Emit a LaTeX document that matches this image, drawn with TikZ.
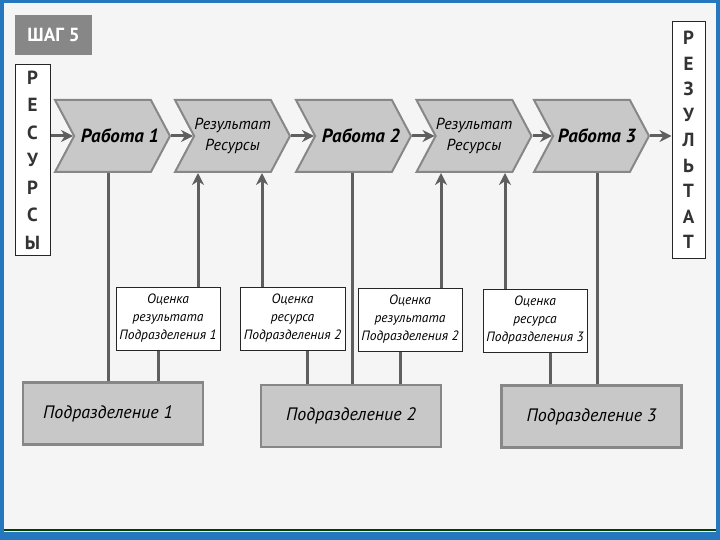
\documentclass[tikz,border=0pt]{standalone}
\usepackage{fontspec}
\setmainfont{PT Sans}
\usetikzlibrary{shapes.symbols, arrows.meta}

\definecolor{frameblue}{RGB}{38,120,190}
\definecolor{boxgray}{RGB}{200,200,200}
\definecolor{edgegray}{RGB}{135,135,135}
\definecolor{linegray}{RGB}{95,95,95}

\tikzset{
    work/.style={signal, signal to=east, signal from=west, signal pointer angle=124,
        fill=boxgray, draw=edgegray, line width=2pt, minimum width=115pt, minimum height=72pt,
        inner sep=0pt, align=center},
    mark box/.style={draw=black!85, fill=white, line width=1pt, align=center, inner sep=0pt},
    unit/.style={fill=boxgray, draw=edgegray, line width=2.5pt, minimum width=180pt, minimum height=62pt},
    arr/.style={draw=linegray, line width=3pt, -{Stealth[length=12pt,width=12pt]}},
    link/.style={draw=linegray, line width=3pt}
}

\begin{document}
\begin{tikzpicture}[x=1pt,y=-1pt]
            %\draw[step=20,gray,very thin] (0,0) grid (720,540);
            \fill[frameblue] (0,0) rectangle (720,540);
            \fill[white!96!black] (4,3) rectangle (716,532);
            \draw[line width=2pt, black!75!green] (4,530) -- (716,530);

            \node[fill=edgegray, minimum width=77pt, minimum height=40pt, text=white, font=\bfseries\fontsize{19}{19}\selectfont] at (53.5,35) (step5) {ШАГ 5};

            \node[mark box, minimum width=35pt, minimum height=190pt, font=\bfseries\fontsize{19}{27.5}\selectfont, text=black!80] at (32.5,160) (res) {Р\\Е\\С\\У\\Р\\С\\Ы};
            \node[mark box, minimum width=33pt, minimum height=236pt, font=\bfseries\fontsize{19}{25.5}\selectfont, text=black!80] at (688.5,140) (rez) {Р\\Е\\З\\У\\Л\\Ь\\Т\\А\\Т};

            \node[work, font=\bfseries\itshape\fontsize{19}{19}\selectfont] at (112.5,136) (w1) {\makebox[0pt]{\hspace*{15pt}Работа 1}};
            \node[work, font=\itshape\fontsize{16}{21}\selectfont] at (232.5,136) (r1) {Результат\\Ресурсы};
            \node[work, font=\bfseries\itshape\fontsize{19}{19}\selectfont] at (353.5,136) (w2) {\makebox[0pt]{\hspace*{15pt}Работа 2}};
            \node[work, font=\itshape\fontsize{16}{21}\selectfont] at (474,136) (r2) {Результат\\Ресурсы};
            \node[work, font=\bfseries\itshape\fontsize{19}{19}\selectfont] at (591.5,136) (w3) {\makebox[0pt]{\hspace*{11pt}Работа 3}};

            \draw[arr] (res.east |- w1.west) -- (w1.west);
            \draw[arr] (w1.east) -- (r1.west);
            \draw[arr] (r1.east) -- (w2.west);
            \draw[arr] (w2.east) -- (r2.west);
            \draw[arr] (r2.east) -- (w3.west);
            \draw[arr] (w3.east) -- (rez.west |- w3.east);

            \node[mark box, minimum width=104pt, minimum height=63pt, font=\itshape\fontsize{13.5}{18}\selectfont] at (168,318.5) (o1) {Оценка\\результата\\Подразделения 1};
            \node[mark box, minimum width=105pt, minimum height=63pt, font=\itshape\fontsize{13.5}{18}\selectfont] at (292.5,318.5) (o2) {Оценка\\ресурса\\Подразделения 2};
            \node[mark box, minimum width=104pt, minimum height=63pt, font=\itshape\fontsize{13.5}{18}\selectfont] at (410,319.5) (o3) {Оценка\\результата\\Подразделения 2};
            \node[mark box, minimum width=104pt, minimum height=63pt, font=\itshape\fontsize{13.5}{18}\selectfont] at (535,320.5) (o4) {Оценка\\ресурса\\Подразделения 3};

            \node[unit, font=\itshape\fontsize{18}{18}\selectfont] at (113,413.5) (d1) {Подразделение 1\hspace*{10pt}};
            \node[unit, font=\itshape\fontsize{18}{18}\selectfont] at (351,416) (d2) {Подразделение 2};
            \node[unit, font=\itshape\fontsize{18}{18}\selectfont] at (591.5,416.5) (d3) {Подразделение 3};

            \draw[link] (108,0 |- w1.south) -- (108,0 |- d1.north);
            \draw[link] (352,0 |- w2.south) -- (352,0 |- d2.north);
            \draw[link] (597,0 |- w3.south) -- (597,0 |- d3.north);

            \draw[arr] (198,0 |- o1.north) -- (198,0 |- r1.south);
            \draw[arr] (262,0 |- o2.north) -- (262,0 |- r1.south);
            \draw[arr] (441,0 |- o3.north) -- (441,0 |- r2.south);
            \draw[arr] (505,0 |- o4.north) -- (505,0 |- r2.south);

            \draw[link] (158,0 |- o1.south) -- (158,0 |- d1.north);
            \draw[link] (307,0 |- o2.south) -- (307,0 |- d2.north);
            \draw[link] (400,0 |- o3.south) -- (400,0 |- d2.north);
            \draw[link] (550,0 |- o4.south) -- (550,0 |- d3.north);
        \end{tikzpicture}
\end{document}
